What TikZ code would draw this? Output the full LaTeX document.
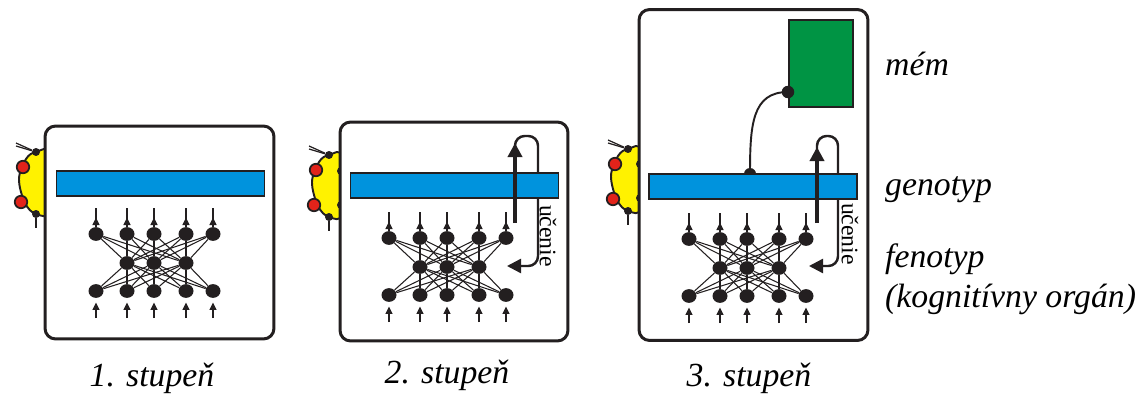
\documentclass[tikz,border=0pt]{standalone}
\usepackage{fontspec}
\setmainfont{Liberation Serif}
\usetikzlibrary{shapes.geometric, arrows.meta, positioning, calc}
\definecolor{inkblack}{HTML}{231F20}
\definecolor{genoblue}{HTML}{0093DD}
\definecolor{memegreen}{HTML}{009444}
\definecolor{bodyyellow}{HTML}{FFF200}
\definecolor{eyered}{HTML}{E2231A}

% small network: #1 prefix, #2 and #3 position of the first node in the top row
\newcommand{\neuralnet}[3]{%
  \foreach \i/\dx in {1/0, 2/31, 3/58, 4/90, 5/117} {
    \node[neuron] (#1t\i) at (#2+\dx, #3) {};
    \node[neuron] (#1b\i) at (#2+\dx, #3+57) {};
    \coordinate (#1out\i) at (#2+\dx, #3-26);
    \coordinate (#1in\i) at (#2+\dx, #3+84);
  }
  \foreach \i/\dx in {2/31, 3/58, 4/90}
    \node[neuron] (#1m\i) at (#2+\dx, #3+29) {};
  \foreach \i in {1,...,5} {
    \foreach \j in {2,3,4} {
      \draw[synapse] (#1t\i) -- (#1m\j);
      \draw[synapse] (#1b\i) -- (#1m\j);
    }
    \draw[synapse] (#1t\i) -- (#1out\i);
    \draw[signal, shorten >=5.5pt] (#1t\i) -- (#1out\i);
    \draw[signal, shorten >=2.5pt] (#1in\i) -- (#1b\i);
  }
}

% animal body behind a panel: #1 prefix, #2 and #3 position of the upper dot
\newcommand{\animal}[3]{%
  \draw[bodyline, fill=bodyyellow] plot[smooth cycle, tension=0.6] coordinates {
    (#2,#3) (#2-10,#3+7) (#2-17,#3+27) (#2-11,#3+51) (#2,#3+62) (#2+14,#3+58) (#2+14,#3+2)};
  \node[joint] (#1top) at (#2,#3) {};
  \node[joint] (#1bot) at (#2,#3+62) {};
  \coordinate (#1antA) at (#2-20,#3-9);
  \coordinate (#1antB) at (#2-20,#3-6);
  \coordinate (#1tail) at (#2,#3+76);
  \draw[bodyline, line width=0.7pt] (#1top) -- (#1antA);
  \draw[bodyline, line width=0.7pt] (#1top) -- (#1antB);
  \draw[bodyline, line width=1.4pt] (#1bot) -- (#1tail);
  \node[eye] (#1eyeA) at (#2-13,#3+15) {};
  \node[eye] (#1eyeB) at (#2-15,#3+50) {};
}

\begin{document}
\begin{tikzpicture}[
  x=0.02cm, y=-0.02cm,
  panel/.style={rectangle, draw=inkblack, fill=white, line width=1.7pt, rounded corners=6pt},
  bar/.style={rectangle, draw=inkblack, fill=genoblue, line width=0.8pt, minimum width=4.16cm, minimum height=0.5cm},
  neuron/.style={ellipse, fill=inkblack, inner sep=0pt, minimum width=0.3cm, minimum height=0.275cm},
  joint/.style={circle, fill=inkblack, inner sep=0pt, minimum size=0.16cm},
  eye/.style={circle, draw=inkblack, fill=eyered, line width=1pt, inner sep=0pt, minimum size=0.25cm},
  bodyline/.style={draw=inkblack, line width=1.1pt},
  synapse/.style={draw=inkblack, line width=0.6pt},
  signal/.style={-{Triangle[length=4.2pt, width=4pt]}, draw=inkblack, line width=0.6pt},
  learn/.style={-{Triangle[length=8pt, width=8pt]}, draw=inkblack, line width=2.2pt},
  loopline/.style={-{Triangle[length=8pt, width=8pt]}, draw=inkblack, line width=1.4pt, rounded corners=5.5pt},
  caption/.style={font=\fontsize{19.2}{23}\selectfont\itshape},
  sidelabel/.style={font=\fontsize{19.2}{23}\selectfont\itshape, anchor=west, align=left},
  learnlabel/.style={font=\fontsize{13.5}{16}\selectfont, rotate=-90}
]
  \useasboundingbox (0,0) rectangle (1142,395);

  % Animals
  \animal{aa}{36}{152}
  \animal{ab}{329}{155}
  \animal{ac}{628}{149}
  \node[joint] (abrimA) at (341,171) {};
  \node[joint] (abrimB) at (341,205) {};
  \node[joint] (acrimA) at (640,164) {};
  \node[joint] (acrimB) at (640,198) {};

  % Panels
  \node[panel, minimum width=4.58cm, minimum height=4.26cm] (panela) at (159.5,232.5) {};
  \node[panel, minimum width=4.56cm, minimum height=4.38cm] (panelb) at (454,231.5) {};
  \node[panel, minimum width=4.58cm, minimum height=6.62cm] (panelc) at (753.5,175) {};

  % Meme and its link down to the bar
  \node[rectangle, draw=inkblack, fill=memegreen, line width=0.8pt, minimum width=1.28cm, minimum height=1.74cm] (meme) at (821,63.5) {};
  \node[circle, fill=inkblack, inner sep=0pt, minimum size=0.25cm] (memedot) at (788,92) {};
  \node[circle, fill=inkblack, inner sep=0pt, minimum size=0.24cm] (bardot) at (750,174) {};
  \draw[bodyline] (bardot.center) .. controls (750,125) and (752,92) .. (memedot.center);

  % Learning loops, they pass behind the bars
  \coordinate (loopbs) at (515,160);
  \coordinate (loopbe) at (507,266);
  \coordinate (loopcs) at (817,160);
  \coordinate (loopce) at (809,266);
  \draw[loopline] (loopbs) -- (515,136) -- (538,136) -- (538,266) -- (loopbe);
  \draw[loopline] (loopcs) -- (817,136) -- (838,136) -- (838,266) -- (loopce);

  % Genotype bars
  \node[bar] (bara) at (160.5,183.5) {};
  \node[bar] (barb) at (454.5,185.5) {};
  \node[bar] (barc) at (753,186.5) {};

  % Learning arrows
  \coordinate (learnbs) at (515,223);
  \coordinate (learnbe) at (515,143);
  \coordinate (learncs) at (817,223);
  \coordinate (learnce) at (817,147);
  \draw[learn] (learnbs) -- (learnbe);
  \draw[learn] (learncs) -- (learnce);
  \node[learnlabel] (learnb) at (548,236) {učenie};
  \node[learnlabel] (learnc) at (850,234) {učenie};

  % Networks
  \neuralnet{na}{96}{234}
  \neuralnet{nb}{389}{238}
  \neuralnet{nc}{689}{239}

  % Labels
  \node[caption] (capa) at (152,378) {1. stupeň};
  \node[caption] (capb) at (447,375) {2. stupeň};
  \node[caption] (capc) at (749,378) {3. stupeň};
  \node[sidelabel] (labmem) at (879,64) {mém};
  \node[sidelabel] (labgeno) at (879,190) {genotyp};
  \node[sidelabel] (labfeno) at (879,279) {fenotyp\\(kognitívny orgán)};
\end{tikzpicture}
\end{document}
